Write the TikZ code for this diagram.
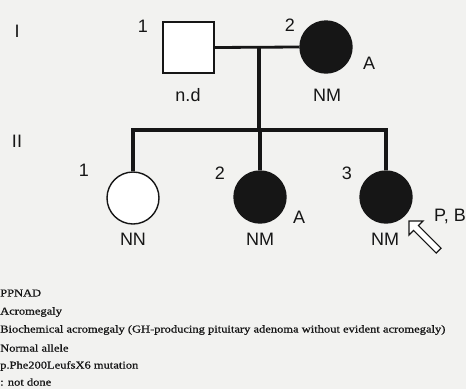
\documentclass[tikz,border=0pt]{standalone}
\usepackage{fontspec}
\setmainfont{Liberation Serif}
\setsansfont{Liberation Sans}
\newfontfamily\keyfont[FakeStretch=1.19, FakeBold=0.8]{Liberation Serif}
\usetikzlibrary{shapes.arrows}
\definecolor{paper}{RGB}{242,242,240}
\definecolor{ink}{RGB}{22,22,22}
\tikzset{
  male/.style={draw=ink, line width=1.4pt, fill=white, minimum size=51pt, inner sep=0pt},
  female/.style={circle, draw=ink, line width=1.4pt, fill=white, minimum size=52pt, inner sep=0pt},
  affected/.style={fill=ink},
  lbl/.style={font=\sffamily\fontsize{18}{18}\selectfont, text=ink, inner sep=0pt},
  gen/.style={font=\sffamily\fontsize{18}{18}\selectfont, text=ink, inner sep=0pt},
  kin/.style={draw=ink, line width=3.4pt},
  legend/.style={font=\keyfont\fontsize{10.5}{10.5}\selectfont, text=ink, anchor=west, inner sep=0pt},
}
\begin{document}
\begin{tikzpicture}[x=1pt, y=-1pt]
\useasboundingbox (0,0) rectangle (466,389);
\fill[paper] (0,0) rectangle (466,389);

% generation numbers
\node[gen] (g1) at (17,31) {I};
\node[gen] (g2) at (17,141) {II};

% generation I
\node[male] (i1) at (188.5,47.5) {};
\node[female, affected] (i2) at (326,47) {};
\node[lbl] (i1n) at (143,26) {1};
\node[lbl] (i2n) at (290,25) {2};
\node[lbl] (i2a) at (369,63) {A};
\node[lbl] (i1g) at (188,95) {n.d};
\node[lbl] (i2g) at (327,95) {NM};

% generation II
\node[female] (ii1) at (133,198) {};
\node[female, affected] (ii2) at (260,197) {};
\node[female, affected] (ii3) at (386,197) {};
\node[lbl] (ii1n) at (84,170) {1};
\node[lbl] (ii2n) at (220,173) {2};
\node[lbl] (ii3n) at (347,173) {3};
\node[lbl] (ii2a) at (299,217) {A};
\node[lbl] (ii3a) at (450,216) {P, B};
\node[lbl] (ii1g) at (133,239) {NN};
\node[lbl] (ii2g) at (260,239) {NM};
\node[lbl] (ii3g) at (385,239) {NM};

% proband arrow
\node[single arrow, draw=ink, line width=1.2pt, fill=white, rotate=135,
      minimum height=42pt, minimum width=20pt, single arrow head extend=4pt,
      single arrow tip angle=90, inner sep=1.5pt] (pr) at (425,237) {};

% lines of descent
\coordinate (mate) at (259,47);
\coordinate (sib) at (259,130);
\coordinate (sibL) at (133,130);
\coordinate (sibR) at (386,130);
\draw[kin, line width=2.8pt] (i1.east) -- (i2.west);
\draw[kin] (mate) -- (sib);
\draw[kin, line cap=rect] (sibL) -- (sibR);
\draw[kin] (sibL) -- (ii1.north);
\draw[kin] (sib -| ii2) -- (ii2.north);
\draw[kin] (sibR) -- (ii3.north);

% key
\node[legend] (k1) at (0,293) {PPNAD};
\node[legend] (k2) at (0,312) {Acromegaly};
\node[legend] (k3) at (0,330) {Biochemical acromegaly (GH-producing pituitary adenoma without evident acromegaly)};
\node[legend] (k4) at (0,348) {Normal allele};
\node[legend] (k5) at (0,366) {p.Phe200LeufsX6 mutation};
\node[legend] (k6) at (0,382) {: not done};
\end{tikzpicture}
\end{document}
